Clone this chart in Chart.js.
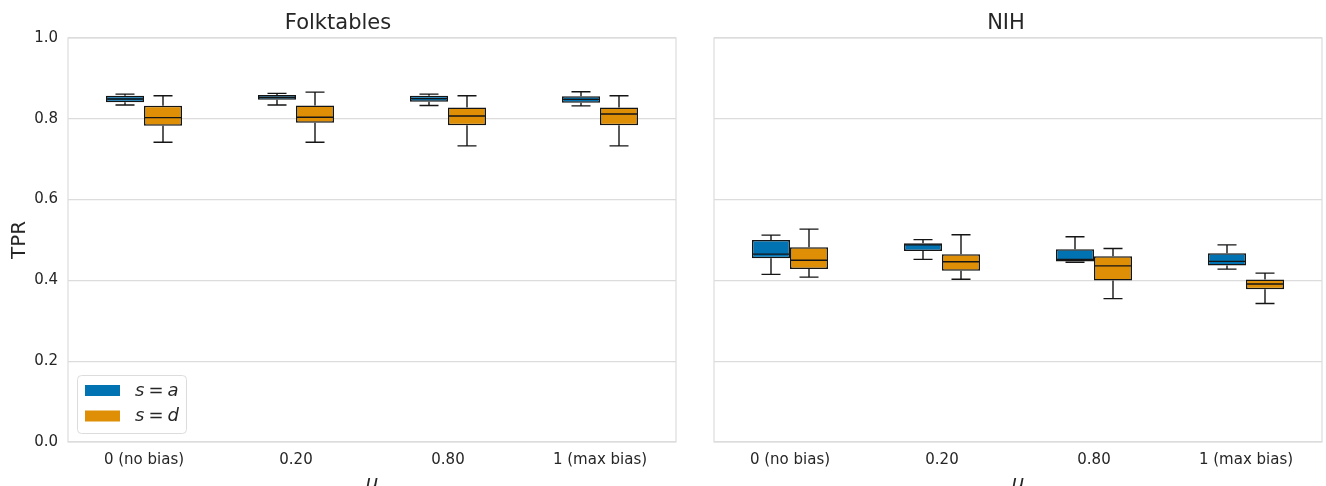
<!DOCTYPE html>
<html>
<head>
<meta charset="utf-8">
<script src="https://cdn.jsdelivr.net/npm/chart.js@4.4.1/dist/chart.umd.min.js"></script>
<style>
  html, body { margin: 0; padding: 0; background: #fff; overflow: hidden; }
  #wrap { position: relative; width: 1326px; height: 486px; overflow: hidden; }
  #left { position: absolute; left: 0; top: 0; }
  #right { position: absolute; left: 690px; top: 0; }
</style>
</head>
<body>
<div id="wrap">
  <canvas id="left" width="690" height="500"></canvas>
  <canvas id="right" width="636" height="500"></canvas>
</div>
<script>
// categories on the x axis (u)
const categories = ['0 (no bias)', '0.20', '0.80', '1 (max bias)'];
const yTicks = [0, 0.2, 0.4, 0.6, 0.8, 1.0];
const seriesLabels = ['s = a', 's = d'];
const seriesColors = ['#0173b2', '#de8f05'];

// each entry: [whisker low, q1, median, q3, whisker high]
const folkA = [[0.834, 0.841, 0.849, 0.857, 0.861], [0.834, 0.847, 0.853, 0.859, 0.863], [0.833, 0.842, 0.850, 0.857, 0.861], [0.832, 0.840, 0.848, 0.856, 0.867]];
const folkD = [[0.742, 0.783, 0.803, 0.832, 0.857], [0.742, 0.790, 0.804, 0.833, 0.866], [0.733, 0.784, 0.807, 0.828, 0.857], [0.733, 0.784, 0.812, 0.828, 0.857]];
const nihA = [[0.415, 0.455, 0.465, 0.500, 0.512], [0.452, 0.473, 0.488, 0.492, 0.501], [0.445, 0.447, 0.452, 0.477, 0.508], [0.428, 0.437, 0.447, 0.467, 0.488]];
const nihD = [[0.408, 0.428, 0.450, 0.482, 0.527], [0.403, 0.424, 0.446, 0.465, 0.513], [0.355, 0.400, 0.436, 0.460, 0.479], [0.343, 0.378, 0.391, 0.402, 0.418]];

const EDGE = '#151515';
const GRID = '#dcdcdc';
const TEXT = '#262626';
const FONT = "'DejaVu Sans', sans-serif";
Chart.defaults.font.family = FONT;
Chart.defaults.color = TEXT;

/* whiskers + median on top of the floating bars */
const boxWhiskers = {
  id: 'boxWhiskers',
  afterDatasetsDraw(chart) {
    const ctx = chart.ctx;
    const y = chart.scales.y;
    ctx.save();
    ctx.strokeStyle = EDGE;
    ctx.lineWidth = 1.4;
    chart.data.datasets.forEach((ds, i) => {
      chart.getDatasetMeta(i).data.forEach((bar, j) => {
        const [lo, q1, med, q3, hi] = ds.stats[j];
        const x = bar.x, half = bar.width / 2, cap = bar.width / 4;
        ctx.beginPath();
        ctx.moveTo(x, y.getPixelForValue(q3));
        ctx.lineTo(x, y.getPixelForValue(hi));
        ctx.moveTo(x - cap, y.getPixelForValue(hi));
        ctx.lineTo(x + cap, y.getPixelForValue(hi));
        ctx.moveTo(x, y.getPixelForValue(q1));
        ctx.lineTo(x, y.getPixelForValue(lo));
        ctx.moveTo(x - cap, y.getPixelForValue(lo));
        ctx.lineTo(x + cap, y.getPixelForValue(lo));
        ctx.moveTo(x - half, y.getPixelForValue(med));
        ctx.lineTo(x + half, y.getPixelForValue(med));
        ctx.stroke();
      });
    });
    ctx.restore();
  }
};

/* light frame round the plot area */
const frame = {
  id: 'frame',
  beforeDatasetsDraw(chart) {
    const {ctx, chartArea: a} = chart;
    ctx.save();
    ctx.strokeStyle = GRID;
    ctx.lineWidth = 1.2;
    ctx.strokeRect(a.left, a.top, a.right - a.left, a.bottom - a.top);
    ctx.restore();
  }
};

/* legend box in the lower left of the left panel */
const boxLegend = {
  id: 'boxLegend',
  afterDraw(chart) {
    const {ctx, chartArea: a} = chart;
    const bx = a.left + 9, by = a.bottom - 67, bw = 109, bh = 58;
    ctx.save();
    ctx.fillStyle = 'rgba(255,255,255,0.8)';
    ctx.strokeStyle = GRID;
    ctx.lineWidth = 1;
    ctx.beginPath();
    ctx.roundRect(bx + 0.5, by + 0.5, bw, bh, 4);
    ctx.fill();
    ctx.stroke();
    chart.data.datasets.forEach((ds, i) => {
      const cy = by + 16 + i * 25.5;
      ctx.fillStyle = ds.backgroundColor;
      ctx.fillRect(bx + 8, cy - 6, 35, 11);
      const parts = ds.label.split(' = ');
      let tx = bx + 58;
      ctx.fillStyle = TEXT;
      ctx.textBaseline = 'middle';
      ctx.font = "italic 18px " + FONT;
      ctx.fillText(parts[0], tx, cy);
      tx += ctx.measureText(parts[0]).width + 4;
      ctx.font = "18px " + FONT;
      ctx.fillText('=', tx, cy);
      tx += ctx.measureText('=').width + 4;
      ctx.font = "italic 18px " + FONT;
      ctx.fillText(parts[1], tx, cy);
    });
    ctx.restore();
  }
};

function makeDatasets(a, d) {
  return [a, d].map((stats, i) => ({
    label: seriesLabels[i],
    data: stats.map(s => [s[1], s[3]]),
    stats: stats,
    backgroundColor: seriesColors[i],
    borderColor: EDGE,
    borderWidth: 1.5,
    borderSkipped: false,
    categoryPercentage: 0.5,
    barPercentage: 1.0
  }));
}

function makeChart(id, title, a, d, isLeft) {
  return new Chart(document.getElementById(id), {
    type: 'bar',
    data: { labels: categories, datasets: makeDatasets(a, d) },
    plugins: isLeft ? [frame, boxWhiskers, boxLegend] : [frame, boxWhiskers],
    options: {
      responsive: false,
      animation: false,
      devicePixelRatio: 1,
      layout: { padding: { left: 0, right: isLeft ? 14 : 4, top: 0, bottom: 0 } },
      plugins: {
        legend: { display: false },
        tooltip: { enabled: false },
        title: {
          display: true,
          text: title,
          color: TEXT,
          font: { size: 21, weight: 'normal' },
          padding: { top: 11.4, bottom: 1.4 }
        }
      },
      scales: {
        x: {
          grid: { display: false, drawTicks: false },
          border: { display: false },
          ticks: { font: { size: 15 }, color: TEXT, padding: 9, maxRotation: 0 },
          title: { display: true, text: 'u', color: TEXT, font: { size: 20, style: 'italic' }, padding: { top: 0, bottom: 4 } },
          afterFit(scale) { scale.height = 58; }
        },
        y: {
          min: 0,
          max: 1,
          afterBuildTicks(scale) { scale.ticks = yTicks.map(v => ({ value: v })); },
          grid: { color: GRID, lineWidth: 1.2, drawTicks: false },
          border: { display: false },
          ticks: {
            display: isLeft,
            font: { size: 15 },
            color: TEXT,
            padding: 10,
            callback: v => v.toFixed(1)
          },
          title: { display: isLeft, text: 'TPR', color: TEXT, font: { size: 20 }, padding: { top: 8, bottom: 0 } },
          afterFit(scale) { scale.width = isLeft ? 68 : 24; }
        }
      }
    }
  });
}

makeChart('left', 'Folktables', folkA, folkD, true);
makeChart('right', 'NIH', nihA, nihD, false);
</script>
</body>
</html>
